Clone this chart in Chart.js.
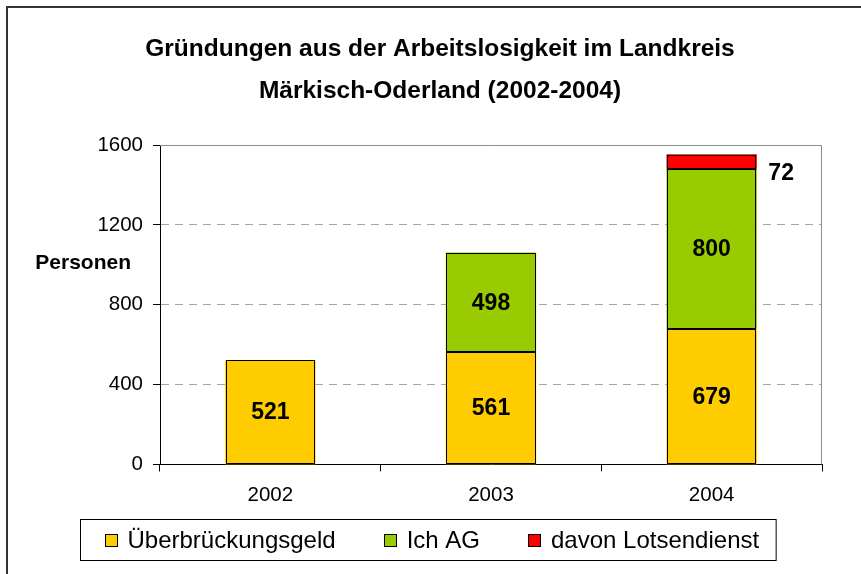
<!DOCTYPE html>
<html>
<head>
<meta charset="utf-8">
<script src="https://cdn.jsdelivr.net/npm/chart.js@4"></script>
<style>
  body { margin: 0; background: #fff; }
  canvas { display: block; }
</style>
</head>
<body>
<canvas id="myChart" width="861" height="574"></canvas>
<script>
// values
const years = ['2002', '2003', '2004'];
const ueberbrueckungsgeld = [521, 561, 679];
const ichAG = [null, 498, 800];
const lotsendienst = [null, null, 72];
const yTicks = [0, 400, 800, 1200, 1600];

const FONT = "'Liberation Sans', Arial, sans-serif";

// frame round the whole picture (right/bottom edge lie outside the window)
const outerFrame = {
    id: 'outerFrame',
    afterDraw(chart) {
        const ctx = chart.ctx;
        ctx.save();
        ctx.strokeStyle = '#333';
        ctx.lineWidth = 2;
        ctx.strokeRect(7, 7, 1000, 1000);
        ctx.restore();
    }
};

// gray top/right edge of the plot area
const plotFrame = {
    id: 'plotFrame',
    beforeDatasetsDraw(chart) {
        const a = chart.chartArea, ctx = chart.ctx;
        ctx.save();
        ctx.strokeStyle = '#8c8c8c';
        ctx.lineWidth = 1;
        ctx.beginPath();
        ctx.moveTo(a.left, a.top + 0.5);
        ctx.lineTo(a.right - 0.5, a.top + 0.5);
        ctx.lineTo(a.right - 0.5, a.bottom);
        ctx.stroke();
        ctx.restore();
    }
};

// crisp black outline on each bar piece, then the numbers
const valueLabels = {
    id: 'valueLabels',
    afterDatasetsDraw(chart) {
        const ctx = chart.ctx;
        ctx.save();
        ctx.strokeStyle = '#000';
        ctx.lineWidth = 1;
        chart.data.datasets.forEach((ds, i) => {
            chart.getDatasetMeta(i).data.forEach((bar, j) => {
                if (ds.data[j] == null) return;
                const l = Math.round(bar.x - bar.width / 2) + 0.5;
                const r = Math.round(bar.x + bar.width / 2) - 0.5;
                const t = Math.round(bar.y) + 0.5;
                const b = Math.round(bar.base) - 0.5;
                ctx.strokeRect(l, t, r - l, b - t);
            });
        });
        ctx.fillStyle = '#000';
        ctx.font = 'bold 23px ' + FONT;
        ctx.textBaseline = 'middle';
        chart.data.datasets.forEach((ds, i) => {
            chart.getDatasetMeta(i).data.forEach((bar, j) => {
                const v = ds.data[j];
                if (v == null) return;
                const mid = (bar.y + bar.base) / 2;
                if (i === 2) {
                    ctx.textAlign = 'left';
                    ctx.fillText(v, bar.x + bar.width / 2 + 12, mid + 12);
                } else {
                    ctx.textAlign = 'center';
                    ctx.fillText(v, bar.x, mid + 1);
                }
            });
        });
        ctx.restore();
    }
};

// horizontal axis title "Personen"
const yTitle = {
    id: 'yTitle',
    afterDraw(chart) {
        const ctx = chart.ctx;
        ctx.save();
        ctx.fillStyle = '#000';
        ctx.font = 'bold 21px ' + FONT;
        ctx.textAlign = 'right';
        ctx.textBaseline = 'middle';
        ctx.fillText('Personen', chart.chartArea.left - 29, chart.scales.y.getPixelForValue(1010));
        ctx.restore();
    }
};

// legend with a box round it
const boxedLegend = {
    id: 'boxedLegend',
    afterDraw(chart) {
        const ctx = chart.ctx;
        const dss = chart.data.datasets;
        ctx.save();
        ctx.font = '24px ' + FONT;
        const padL = 24, padR = 17, box = 13, gap = 10, spacing = 48;
        let total = padL + padR;
        dss.forEach((ds, i) => {
            total += box + gap + ctx.measureText(ds.label).width;
            if (i < dss.length - 1) total += spacing;
        });
        const left = Math.round(chart.width / 2 - 3 - total / 2) + 0.5;
        const top = 519.5, h = 41;
        const cy = top + h / 2;
        ctx.strokeStyle = '#000';
        ctx.lineWidth = 1;
        ctx.strokeRect(left, top, total, h);
        let x = left + padL;
        ctx.textBaseline = 'middle';
        ctx.textAlign = 'left';
        dss.forEach(ds => {
            ctx.fillStyle = ds.backgroundColor;
            ctx.fillRect(Math.round(x), Math.round(cy - box / 2), box, box);
            ctx.strokeRect(Math.round(x) + 0.5, Math.round(cy - box / 2) + 0.5, box - 1, box - 1);
            x += box + gap;
            ctx.fillStyle = '#000';
            ctx.fillText(ds.label, x, cy + 1);
            x += ctx.measureText(ds.label).width + spacing;
        });
        ctx.restore();
    }
};

const ctx = document.getElementById('myChart').getContext('2d');
const chart = new Chart(ctx, {
    type: 'bar',
    data: {
        labels: years,
        datasets: [
            { label: 'Überbrückungsgeld', data: ueberbrueckungsgeld, backgroundColor: '#FFCC00' },
            { label: 'Ich AG', data: ichAG, backgroundColor: '#99CC00' },
            { label: 'davon Lotsendienst', data: lotsendienst, backgroundColor: '#FF0000' }
        ]
    },
    options: {
        responsive: false,
        animation: false,
        layout: { padding: { left: 58, right: 39, top: 0, bottom: 54 } },
        datasets: {
            bar: {
                borderWidth: 0,
                inflateAmount: 0.5,
                categoryPercentage: 1,
                barPercentage: 0.405
            }
        },
        plugins: {
            legend: { display: false },
            tooltip: { enabled: false },
            title: {
                display: true,
                text: ['Gründungen aus der Arbeitslosigkeit im Landkreis', 'Märkisch-Oderland (2002-2004)'],
                color: '#000',
                font: { family: FONT, size: 24.5, weight: 'bold', lineHeight: 42 / 24.5 },
                padding: { top: 28, bottom: 33 }
            }
        },
        scales: {
            x: {
                stacked: true,
                grid: { drawOnChartArea: false, tickColor: '#000', tickLength: 7, offset: true },
                border: { color: '#000', width: 1 },
                ticks: { color: '#000', padding: 12, font: { family: FONT, size: 20.5 } }
            },
            y: {
                stacked: true,
                min: yTicks[0],
                max: yTicks[yTicks.length - 1],
                afterFit: scale => { scale.width = 102; },
                afterBuildTicks: scale => { scale.ticks = yTicks.map(v => ({ value: v })); },
                grid: {
                    color: c => (c.tick && c.tick.value > 0 && c.tick.value < 1600) ? '#a6a6a6' : 'rgba(0,0,0,0)',
                    tickColor: '#000',
                    tickLength: 7
                },
                border: { color: '#000', width: 1, dash: [8, 6] },
                ticks: {
                    color: '#000',
                    padding: 10,
                    font: { family: FONT, size: 20.5 },
                    callback: v => String(v)
                }
            }
        }
    },
    plugins: [outerFrame, plotFrame, valueLabels, yTitle, boxedLegend]
});
</script>
</body>
</html>
